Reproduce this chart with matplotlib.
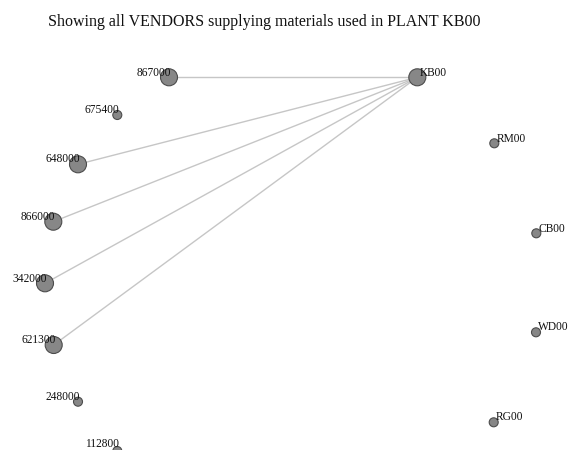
import matplotlib
matplotlib.use("Agg")
import matplotlib.pyplot as plt

title = "Showing all VENDORS supplying materials used in PLANT KB00"

# nodes: name, x, y (pixel layout positions), side of label
nodes = ["867000", "675400", "648000", "866000", "342000", "621300", "248000", "112800",
         "KB00", "RM00", "CB00", "WD00", "RG00"]
node_x = [169.0, 117.3, 78.0, 53.3, 45.0, 53.7, 78.0, 117.3,
          417.3, 494.3, 536.3, 536.0, 493.7]
node_y = [77.3, 115.0, 164.3, 221.7, 283.3, 345.0, 401.7, 451.0,
          77.3, 143.3, 233.3, 332.3, 422.3]
label_side = ["left"] * 8 + ["right"] * 5

# edges: plant KB00 -> vendors
edges = [("KB00", "867000"), ("KB00", "648000"), ("KB00", "866000"),
         ("KB00", "342000"), ("KB00", "621300")]

W, H = 568, 450
fig = plt.figure(figsize=(W / 100, H / 100), dpi=100)
ax = fig.add_axes([0, 0, 1, 1])
ax.set_xlim(0, W)
ax.set_ylim(H, 0)
ax.axis("off")

pos = {n: (x, y) for n, x, y in zip(nodes, node_x, node_y)}
deg = {n: 0 for n in nodes}
for a, b in edges:
    deg[a] += 1
    deg[b] += 1
    (x1, y1), (x2, y2) = pos[a], pos[b]
    ax.plot([x1, x2], [y1, y2], color="#c6c6c6", lw=1.0, zorder=1, solid_capstyle="butt")

sizes = [150 if deg[n] > 0 else 42 for n in nodes]
ax.scatter(node_x, node_y, s=sizes, c="#878787", edgecolors="#4c4c4c", linewidths=0.8, zorder=2)

serif = ["Liberation Serif", "DejaVu Serif"]
for n, x, y, side in zip(nodes, node_x, node_y, label_side):
    ax.text(x + 2, min(y - 1.8, 447), n, ha="right" if side == "left" else "left", va="baseline",
            fontsize=8.3, family=serif, color="#111111", zorder=3)

ax.text(264.5, 26, title, ha="center", va="baseline", fontsize=11.5, family=serif, color="#111111")

fig.savefig("out.png", dpi=100)
